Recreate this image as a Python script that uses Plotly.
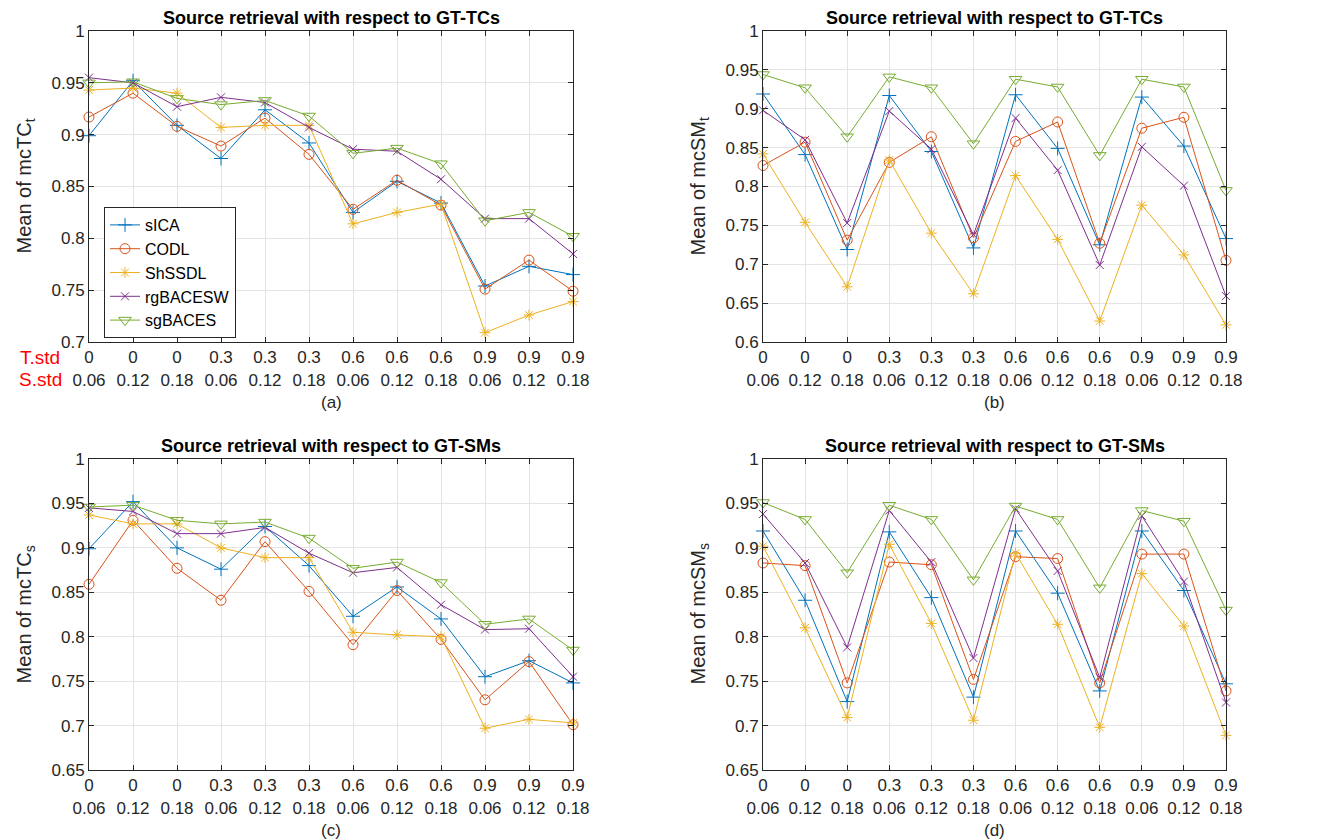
import plotly.graph_objects as go

# ---------------- data ----------------
t_std = ["0", "0", "0", "0.3", "0.3", "0.3", "0.6", "0.6", "0.6", "0.9", "0.9", "0.9"]
s_std = ["0.06", "0.12", "0.18"] * 4
methods = ["sICA", "CODL", "ShSSDL", "rgBACESW", "sgBACES"]

# (a) Mean of mcTC_t  (GT-TCs)
a_sICA = [0.899, 0.952, 0.909, 0.877, 0.924, 0.892, 0.825, 0.855, 0.834, 0.754, 0.773, 0.765]
a_CODL = [0.917, 0.940, 0.908, 0.889, 0.916, 0.881, 0.828, 0.856, 0.832, 0.751, 0.779, 0.749]
a_ShSSDL = [0.943, 0.945, 0.940, 0.907, 0.909, 0.909, 0.814, 0.825, 0.833, 0.709, 0.726, 0.739]
a_rgBACESW = [0.955, 0.950, 0.927, 0.936, 0.931, 0.907, 0.886, 0.884, 0.857, 0.819, 0.819, 0.785]
a_sgBACES = [0.950, 0.951, 0.935, 0.929, 0.933, 0.918, 0.882, 0.887, 0.872, 0.817, 0.825, 0.802]

# (b) Mean of mcSM_t  (GT-TCs)
b_sICA = [0.919, 0.841, 0.719, 0.917, 0.845, 0.721, 0.918, 0.849, 0.725, 0.915, 0.852, 0.733]
b_CODL = [0.827, 0.857, 0.731, 0.831, 0.864, 0.734, 0.858, 0.883, 0.727, 0.875, 0.889, 0.705]
b_ShSSDL = [0.842, 0.754, 0.671, 0.834, 0.740, 0.662, 0.814, 0.732, 0.627, 0.776, 0.712, 0.622]
b_rgBACESW = [0.898, 0.860, 0.753, 0.897, 0.848, 0.738, 0.888, 0.821, 0.699, 0.851, 0.801, 0.659]
b_sgBACES = [0.944, 0.927, 0.864, 0.941, 0.927, 0.855, 0.938, 0.928, 0.840, 0.938, 0.928, 0.795]

# (c) Mean of mcTC_s  (GT-SMs)
c_sICA = [0.899, 0.952, 0.900, 0.876, 0.924, 0.880, 0.823, 0.856, 0.820, 0.755, 0.773, 0.748]
c_CODL = [0.859, 0.931, 0.877, 0.841, 0.907, 0.851, 0.791, 0.852, 0.797, 0.729, 0.772, 0.701]
c_ShSSDL = [0.937, 0.927, 0.927, 0.900, 0.889, 0.889, 0.805, 0.802, 0.800, 0.697, 0.707, 0.703]
c_rgBACESW = [0.945, 0.941, 0.916, 0.916, 0.923, 0.894, 0.872, 0.878, 0.836, 0.808, 0.809, 0.755]
c_sgBACES = [0.946, 0.948, 0.931, 0.927, 0.929, 0.911, 0.877, 0.884, 0.861, 0.814, 0.820, 0.785]

# (d) Mean of mcSM_s  (GT-SMs)
d_sICA = [0.919, 0.841, 0.727, 0.918, 0.844, 0.732, 0.919, 0.849, 0.739, 0.919, 0.852, 0.747]
d_CODL = [0.883, 0.880, 0.748, 0.884, 0.881, 0.752, 0.890, 0.888, 0.748, 0.893, 0.893, 0.739]
d_ShSSDL = [0.902, 0.810, 0.709, 0.904, 0.815, 0.706, 0.894, 0.814, 0.698, 0.871, 0.812, 0.689]
d_rgBACESW = [0.938, 0.883, 0.788, 0.942, 0.884, 0.776, 0.944, 0.874, 0.754, 0.936, 0.862, 0.726]
d_sgBACES = [0.951, 0.932, 0.872, 0.948, 0.932, 0.864, 0.947, 0.932, 0.855, 0.942, 0.930, 0.830]

panels = [
    dict(series=[a_sICA, a_CODL, a_ShSSDL, a_rgBACESW, a_sgBACES], ymin=0.7,
         title="Source retrieval with respect to GT-TCs", ylabel="Mean of mcTC<sub>t</sub>", tag="(a)"),
    dict(series=[b_sICA, b_CODL, b_ShSSDL, b_rgBACESW, b_sgBACES], ymin=0.6,
         title="Source retrieval with respect to GT-TCs", ylabel="Mean of mcSM<sub>t</sub>", tag="(b)"),
    dict(series=[c_sICA, c_CODL, c_ShSSDL, c_rgBACESW, c_sgBACES], ymin=0.65,
         title="Source retrieval with respect to GT-SMs", ylabel="Mean of mcTC<sub>s</sub>", tag="(c)"),
    dict(series=[d_sICA, d_CODL, d_ShSSDL, d_rgBACESW, d_sgBACES], ymin=0.65,
         title="Source retrieval with respect to GT-SMs", ylabel="Mean of mcSM<sub>s</sub>", tag="(d)"),
]

# ---------------- style ----------------
W, H = 1337, 840
OFF = 8  # page body margin of the html page
colors = ["#0072BD", "#D95319", "#EDB120", "#7E2F8E", "#77AC30"]
symbols = ["cross-thin", "circle-open", "asterisk", "x-thin", "triangle-down-open"]
msizes = [10, 10, 9, 8, 11]
FONT = "Liberation Sans, Arial, Helvetica, sans-serif"
AX = "#262626"


def px(x):
    return (x - OFF) / W


def py(y):
    return 1 - (y - OFF) / H


# screen pixel boxes of each axes: (left, right, top, bottom)
boxes = [(89, 573, 31, 342), (763, 1226, 31, 342), (89, 573, 459, 770), (763, 1226, 459, 770)]

fig = go.Figure()
xs = list(range(len(t_std)))
ticktext_x = [f"{t}<br>{s}" for t, s in zip(t_std, s_std)]

annotations = []
layout_axes = {}
for p, (panel, box) in enumerate(zip(panels, boxes)):
    l, r, t, b = box
    sfx = "" if p == 0 else str(p + 1)
    xa, ya = "x" + sfx, "y" + sfx
    for i, (name, vals) in enumerate(zip(methods, panel["series"])):
        fig.add_trace(go.Scatter(
            x=xs, y=vals, name=name, mode="lines+markers",
            xaxis=xa, yaxis=ya, showlegend=(p == 0), cliponaxis=False,
            line=dict(color=colors[i], width=1),
            marker=dict(symbol=symbols[i], size=msizes[i], color=colors[i],
                        line=dict(color=colors[i], width=1)),
        ))
    ymin = panel["ymin"]
    nt = int(round((1.0 - ymin) / 0.05))
    yv = [round(ymin + 0.05 * k, 2) for k in range(nt + 1)]
    yt = [("%g" % v) for v in yv]
    common = dict(showline=True, linecolor=AX, linewidth=1, mirror="ticks",
                  ticks="inside", ticklen=5, tickcolor=AX, tickwidth=1,
                  showgrid=True, gridcolor="#e4e4e4", gridwidth=1, zeroline=False,
                  automargin=False,
                  tickfont=dict(family=FONT, size=17, color=AX))
    layout_axes["xaxis" + sfx] = dict(
        domain=[px(l), px(r)], anchor=ya, range=[0, len(xs) - 1],
        tickmode="array", tickvals=xs, ticktext=ticktext_x, **common)
    layout_axes["yaxis" + sfx] = dict(
        domain=[py(b), py(t)], anchor=xa, range=[ymin, 1.0],
        tickmode="array", tickvals=yv, ticktext=yt, **common)
    cx = (l + r) / 2
    cy = (t + b) / 2
    annotations.append(dict(text="<b>" + panel["title"] + "</b>", x=px(cx), y=py(t - 13),
                            xref="paper", yref="paper", showarrow=False,
                            xanchor="center", yanchor="middle",
                            font=dict(family=FONT, size=18, color="black")))
    annotations.append(dict(text=panel["ylabel"], x=px(l - 64), y=py(cy),
                            xref="paper", yref="paper", showarrow=False, textangle=-90,
                            xanchor="center", yanchor="middle",
                            font=dict(family=FONT, size=20, color=AX)))
    annotations.append(dict(text=panel["tag"], x=px(cx), y=py(b + 60),
                            xref="paper", yref="paper", showarrow=False,
                            xanchor="center", yanchor="middle",
                            font=dict(family=FONT, size=17, color=AX)))

for txt, yy in [("T.std", 357), ("S.std", 379)]:
    annotations.append(dict(text=txt, x=px(40), y=py(yy), xref="paper", yref="paper",
                            showarrow=False, xanchor="center", yanchor="middle",
                            font=dict(family=FONT, size=19, color="#ff0000")))

fig.update_layout(
    width=W, height=H, margin=dict(l=0, r=0, t=0, b=0, pad=0, autoexpand=False),
    paper_bgcolor="white", plot_bgcolor="white",
    font=dict(family=FONT, size=17, color=AX),
    annotations=annotations,
    legend=dict(x=px(104), y=py(207), xanchor="left", yanchor="top",
                bgcolor="white", bordercolor=AX, borderwidth=1,
                font=dict(family=FONT, size=16, color="black"), tracegroupgap=0),
    **layout_axes,
)

fig.write_html("out.html")
